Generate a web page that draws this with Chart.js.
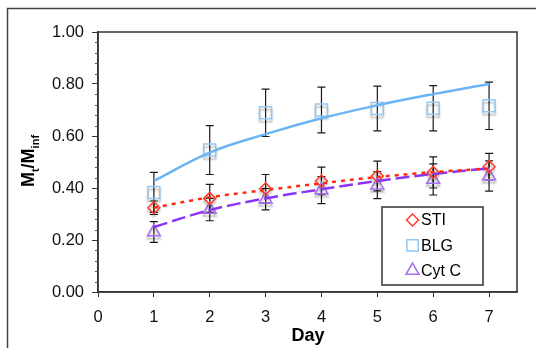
<!DOCTYPE html>
<html>
<head>
<meta charset="utf-8">
<script src="https://cdn.jsdelivr.net/npm/chart.js@4/dist/chart.umd.min.js"></script>
<style>
html, body { margin: 0; padding: 0; background: #fff; overflow: hidden; }
canvas { display: block; }
</style>
</head>
<body>
<canvas id="chart" width="536" height="348"></canvas>
<script>
// data
const days = [1, 2, 3, 4, 5, 6, 7];
const xTicks = [0, 1, 2, 3, 4, 5, 6, 7];
const yTicks = [0, 0.2, 0.4, 0.6, 0.8, 1.0];

const stiMean = [0.324, 0.360, 0.397, 0.427, 0.446, 0.460, 0.482];
const stiErr  = [0.026, 0.054, 0.055, 0.053, 0.057, 0.060, 0.051];
const blgMean = [0.383, 0.546, 0.689, 0.700, 0.706, 0.707, 0.716];
const blgErr  = [0.077, 0.094, 0.091, 0.088, 0.086, 0.087, 0.091];
const cytMean = [0.231, 0.317, 0.357, 0.392, 0.411, 0.433, 0.446];
const cytErr  = [0.040, 0.043, 0.041, 0.052, 0.052, 0.060, 0.058];

// fitted curves
const stiFit = [0.324, 0.364, 0.392, 0.418, 0.442, 0.461, 0.475];
const blgFit = [0.427, 0.536, 0.607, 0.668, 0.718, 0.761, 0.800];
const cytFit = [0.250, 0.315, 0.360, 0.395, 0.427, 0.454, 0.476];

const FONT = "'Liberation Sans', Arial, sans-serif";
const pts = arr => days.map((d, i) => ({ x: d, y: arr[i] }));

const errorBars = {
    id: 'errorBars',
    beforeDatasetsDraw(chart) {
        const ctx = chart.ctx, xs = chart.scales.x, ys = chart.scales.y;
        ctx.save();
        ctx.strokeStyle = '#1a1a1a';
        ctx.lineWidth = 1.2;
        chart.data.datasets.forEach(ds => {
            if (!ds.errors) return;
            ds.data.forEach((p, i) => {
                const x = xs.getPixelForValue(p.x);
                const y1 = ys.getPixelForValue(p.y + ds.errors[i]);
                const y2 = ys.getPixelForValue(p.y - ds.errors[i]);
                ctx.beginPath();
                ctx.moveTo(x, y1); ctx.lineTo(x, y2);
                ctx.moveTo(x - 4, y1); ctx.lineTo(x + 4, y1);
                ctx.moveTo(x - 4, y2); ctx.lineTo(x + 4, y2);
                ctx.stroke();
            });
        });
        ctx.restore();
    },
    beforeDatasetDraw(chart, args) {
        if (chart.data.datasets[args.index].showLine === false) {
            const ctx = chart.ctx;
            ctx.save();
            ctx.shadowColor = 'rgba(0,0,0,0.28)';
            ctx.shadowOffsetY = 3;
            ctx.shadowBlur = 2;
        }
    },
    afterDatasetDraw(chart, args) {
        if (chart.data.datasets[args.index].showLine === false) chart.ctx.restore();
    }
};

const decorations = {
    id: 'decorations',
    beforeDraw(chart) {
        const ctx = chart.ctx;
        ctx.save();
        ctx.strokeStyle = '#444';
        ctx.lineWidth = 1.5;
        ctx.beginPath();
        ctx.moveTo(7.5, 348); ctx.lineTo(7.5, 8.5); ctx.lineTo(536, 8.5);
        ctx.stroke();
        ctx.restore();
    },
    afterDraw(chart) {
        const ctx = chart.ctx, a = chart.chartArea, ys = chart.scales.y;
        ctx.save();
        // plot frame
        ctx.strokeStyle = '#333';
        ctx.lineWidth = 1.5;
        ctx.strokeRect(a.left, a.top, a.right - a.left, a.bottom - a.top);
        // minor y ticks
        ctx.lineWidth = 1;
        ctx.strokeStyle = '#555';
        for (let k = 1; k < 25; k++) {
            if (k % 5 === 0) continue;
            const y = Math.round(ys.getPixelForValue(k * 0.04)) + 0.5;
            ctx.beginPath(); ctx.moveTo(a.left - 3, y); ctx.lineTo(a.left, y); ctx.stroke();
        }
        // axis titles
        ctx.fillStyle = '#000';
        ctx.font = 'bold 18px ' + FONT;
        ctx.textAlign = 'center';
        ctx.textBaseline = 'middle';
        ctx.fillText('Day', 308, 336);

        ctx.translate(28, 161);
        ctx.rotate(-Math.PI / 2);
        const big = 'bold 18px ' + FONT, small = 'bold 11px ' + FONT;
        const parts = [['M', big, 0], ['t', small, 5], ['/M', big, 0], ['inf', small, 5]];
        let total = 0;
        parts.forEach(p => { ctx.font = p[1]; total += ctx.measureText(p[0]).width; });
        let x = -total / 2;
        ctx.textAlign = 'left';
        ctx.textBaseline = 'alphabetic';
        parts.forEach(p => {
            ctx.font = p[1];
            ctx.fillText(p[0], x, 6 + p[2]);
            x += ctx.measureText(p[0]).width;
        });
        ctx.restore();

        // legend box
        ctx.save();
        ctx.fillStyle = '#fff';
        ctx.fillRect(382, 207, 101, 78);
        ctx.strokeStyle = '#333';
        ctx.lineWidth = 1.5;
        ctx.strokeRect(382, 207, 101, 78);
        const items = chart.data.datasets.filter(d => d.showLine === false);
        items.forEach((d, i) => {
            const y = 220 + i * 25.3;
            ctx.strokeStyle = d.borderColor;
            ctx.fillStyle = 'rgba(0,0,0,0)';
            ctx.lineWidth = d.borderWidth;
            Chart.helpers.drawPoint(ctx, { pointStyle: d.pointStyle, radius: d.legendRadius, rotation: 0, borderWidth: d.borderWidth }, 412.5, y);
            ctx.fillStyle = '#000';
            ctx.font = '16px ' + FONT;
            ctx.textAlign = 'left';
            ctx.textBaseline = 'middle';
            ctx.fillText(d.label, 421, y + 1);
        });
        ctx.restore();
    }
};

new Chart(document.getElementById('chart'), {
    type: 'scatter',
    data: {
        datasets: [
            { label: 'STI fit', data: pts(stiFit), showLine: true, borderColor: '#ff2a12', borderWidth: 2.5,
              borderDash: [4, 5], pointRadius: 0, tension: 0.4, fill: false },
            { label: 'BLG fit', data: pts(blgFit), showLine: true, borderColor: '#6cb4f4', borderWidth: 2.5,
              pointRadius: 0, tension: 0.4, fill: false },
            { label: 'Cyt C fit', data: pts(cytFit), showLine: true, borderColor: '#8b35f5', borderWidth: 2.5,
              borderDash: [14, 5], pointRadius: 0, tension: 0.4, fill: false },
            { label: 'STI', data: pts(stiMean), errors: stiErr, showLine: false, pointStyle: 'rectRot',
              pointRadius: 6, legendRadius: 6, borderColor: '#ff3b2a', backgroundColor: 'rgba(0,0,0,0)', borderWidth: 1.5 },
            { label: 'BLG', data: pts(blgMean), errors: blgErr, showLine: false, pointStyle: 'rect',
              pointRadius: 8.5, legendRadius: 8, borderColor: '#94c8f2', backgroundColor: 'rgba(0,0,0,0)', borderWidth: 1.5 },
            { label: 'Cyt C', data: pts(cytMean), errors: cytErr, showLine: false, pointStyle: 'triangle',
              pointRadius: 7.5, legendRadius: 7.5, borderColor: '#a66ff2', backgroundColor: 'rgba(0,0,0,0)', borderWidth: 1.5 }
        ]
    },
    options: {
        responsive: false,
        animation: false,
        devicePixelRatio: 1,
        layout: { padding: { left: 0, top: 32, right: 19, bottom: 0 } },
        plugins: { legend: { display: false }, tooltip: { enabled: false } },
        scales: {
            x: {
                type: 'linear', min: 0, max: 7.5,
                afterBuildTicks: s => { s.ticks = xTicks.map(v => ({ value: v })); },
                afterFit: s => { s.height = 56; },
                grid: { drawOnChartArea: false, drawTicks: true, tickLength: 5, color: '#333' },
                border: { display: true, color: '#333', width: 1.5 },
                ticks: { font: { family: FONT, size: 16.5 }, color: '#111', padding: 11, maxRotation: 0,
                         callback: v => String(v) }
            },
            y: {
                type: 'linear', min: 0, max: 1,
                afterBuildTicks: s => { s.ticks = yTicks.map(v => ({ value: v })); },
                afterFit: s => { s.width = 98; },
                grid: { drawOnChartArea: false, drawTicks: true, tickLength: 6, color: '#333' },
                border: { display: true, color: '#333', width: 1.5 },
                ticks: { font: { family: FONT, size: 16.5 }, color: '#111', padding: 8,
                         callback: v => v.toFixed(2) }
            }
        }
    },
    plugins: [errorBars, decorations]
});
</script>
</body>
</html>
